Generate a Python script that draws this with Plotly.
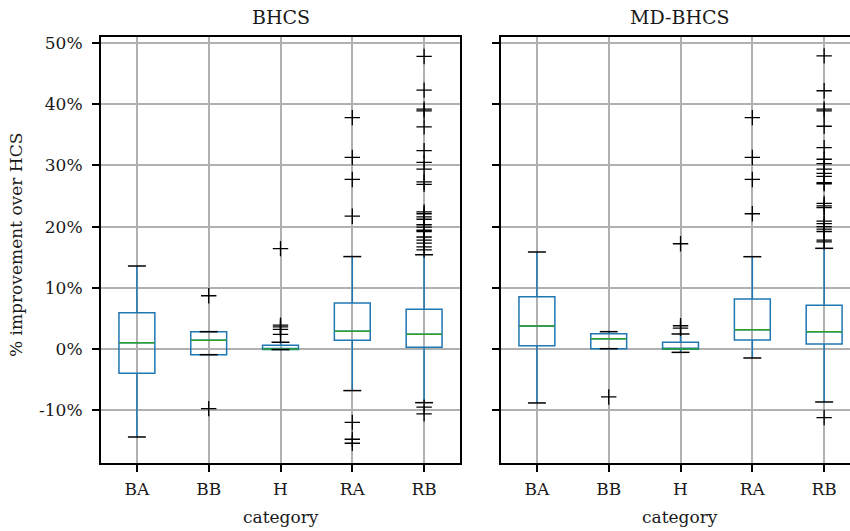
import plotly.graph_objects as go

categories = ["BA", "BB", "H", "RA", "RB"]
positions = [1, 2, 3, 4, 5]
panel_titles = ["BHCS", "MD-BHCS"]
ytick_vals = [-10, 0, 10, 20, 30, 40, 50]
ytick_text = ["-10%", "0%", "10%", "20%", "30%", "40%", "50%"]

# BHCS panel (values in %)
bhcs_q1 = [-3.97, -0.93, -0.10, 1.42, 0.28]
bhcs_median = [1.03, 1.42, 0.00, 2.89, 2.40]
bhcs_q3 = [5.93, 2.83, 0.60, 7.50, 6.48]
bhcs_lower = [-14.38, -0.93, -0.10, -6.80, -8.77]
bhcs_upper = [13.56, 2.83, 1.10, 15.10, 15.40]
bhcs_fliers = [
    [],
    [8.7, -9.75],
    [2.4, 3.2, 3.6, 3.9, 16.4],
    [37.8, 31.3, 27.7, 21.7, -12.0, -14.75, -15.4],
    [47.8, 42.3, 39.2, 38.9, 36.3, 32.4, 30.5, 29.4, 27.3, 26.9, 22.4, 22.1,
     21.6, 21.2, 20.3, 19.9, 19.4, 19.2, 18.3, 17.8, 17.3, 16.7, 16.2,
     -9.5, -10.6],
]

# MD-BHCS panel (values in %)
md_q1 = [0.54, 0.05, -0.05, 1.47, 0.82]
md_median = [3.76, 1.69, 0.00, 3.16, 2.83]
md_q3 = [8.55, 2.50, 1.10, 8.17, 7.14]
md_lower = [-8.82, 0.05, -0.55, -1.47, -8.66]
md_upper = [15.85, 2.83, 2.45, 15.08, 16.45]
md_fliers = [
    [],
    [-7.84],
    [3.4, 3.8, 17.2],
    [37.8, 31.3, 27.7, 22.1],
    [47.9, 42.2, 39.2, 38.9, 36.4, 32.9, 31.0, 30.3, 29.4, 28.7, 28.2, 27.2,
     27.0, 23.8, 23.4, 23.1, 20.9, 20.5, 20.0, 19.6, 19.2, 17.8, 17.5,
     -11.2],
]

BOX_W = 0.5
CAP_W = 0.25
BLUE = "#1f77b4"
GREEN = "#2ca02c"
FONT = "DejaVu Serif"
TXT = "#1a1a1a"
W, H = 850, 531
T, B = 37, 68
PH = H - T - B

fig = go.Figure()

panels = [
    (bhcs_q1, bhcs_median, bhcs_q3, bhcs_lower, bhcs_upper, bhcs_fliers, "x", "y"),
    (md_q1, md_median, md_q3, md_lower, md_upper, md_fliers, "x2", "y2"),
]

for q1, med, q3, lo, hi, fl, xa, ya in panels:
    fig.add_trace(go.Box(
        x=positions, q1=q1, median=med, q3=q3, lowerfence=lo, upperfence=hi,
        width=BOX_W, whiskerwidth=0, boxpoints=False,
        fillcolor="rgba(0,0,0,0)", line=dict(color=BLUE, width=1.5),
        xaxis=xa, yaxis=ya, showlegend=False, hoverinfo="skip",
    ))
    mx, my = [], []
    for p, m in zip(positions, med):
        mx += [p - BOX_W / 2, p + BOX_W / 2, None]
        my += [m, m, None]
    fig.add_trace(go.Scatter(x=mx, y=my, mode="lines",
                             line=dict(color=GREEN, width=1.5),
                             xaxis=xa, yaxis=ya, showlegend=False, hoverinfo="skip"))
    cx, cy = [], []
    for p, l, h in zip(positions, lo, hi):
        for v in (l, h):
            cx += [p - CAP_W / 2, p + CAP_W / 2, None]
            cy += [v, v, None]
    fig.add_trace(go.Scatter(x=cx, y=cy, mode="lines",
                             line=dict(color="black", width=1.5),
                             xaxis=xa, yaxis=ya, showlegend=False, hoverinfo="skip"))
    fx, fy = [], []
    for p, vals in zip(positions, fl):
        fx += [p] * len(vals)
        fy += vals
    fig.add_trace(go.Scatter(x=fx, y=fy, mode="markers",
                             marker=dict(symbol="cross-thin", size=11,
                                         line=dict(color="black", width=1.3)),
                             xaxis=xa, yaxis=ya, showlegend=False, hoverinfo="skip"))

axis_common = dict(
    showgrid=True, gridcolor="#b0b0b0", gridwidth=1.6,
    showline=True, linecolor="black", linewidth=2,
    ticks="outside", ticklen=7, tickwidth=2, tickcolor="black",
    zeroline=False, automargin=False,
    tickfont=dict(family=FONT, size=17, color=TXT),
)

fig.update_layout(
    width=W, height=H,
    margin=dict(l=0, r=0, t=T, b=B),
    paper_bgcolor="white", plot_bgcolor="white",
    boxmode="overlay",
    xaxis=dict(domain=[101 / W, 460 / W], range=[0.5, 5.5], ticklabelstandoff=3,
               tickvals=positions, ticktext=categories, mirror=True, **axis_common),
    xaxis2=dict(domain=[501 / W, 1.0], range=[0.5, 5.36], anchor="y2", ticklabelstandoff=3,
                tickvals=positions, ticktext=categories, mirror=True, **axis_common),
    yaxis=dict(range=[-18.63, 50.98], tickvals=ytick_vals, ticktext=ytick_text,
               ticklabelstandoff=6, mirror=True, **axis_common),
    yaxis2=dict(range=[-18.63, 50.98], tickvals=ytick_vals, showticklabels=False,
                anchor="x2", matches="y", mirror=False, **axis_common),
)

annots = [
    (panel_titles[0], 280.5, 17, 19),
    (panel_titles[1], 680, 17, 19),
    ("category", 280.5, 517, 17),
    ("category", 680, 517, 17),
]
for text, px, py, size in annots:
    fig.add_annotation(text=text, xref="paper", yref="paper",
                       x=px / W, y=(H - B - py) / PH,
                       xanchor="center", yanchor="middle", showarrow=False,
                       font=dict(family=FONT, size=size, color=TXT))
fig.add_annotation(text="% improvement over HCS", xref="paper", yref="paper",
                   x=16 / W, y=(H - B - 245) / PH,
                   xanchor="center", yanchor="middle", textangle=-90, showarrow=False,
                   font=dict(family=FONT, size=17, color=TXT))

fig.write_html("out.html")
